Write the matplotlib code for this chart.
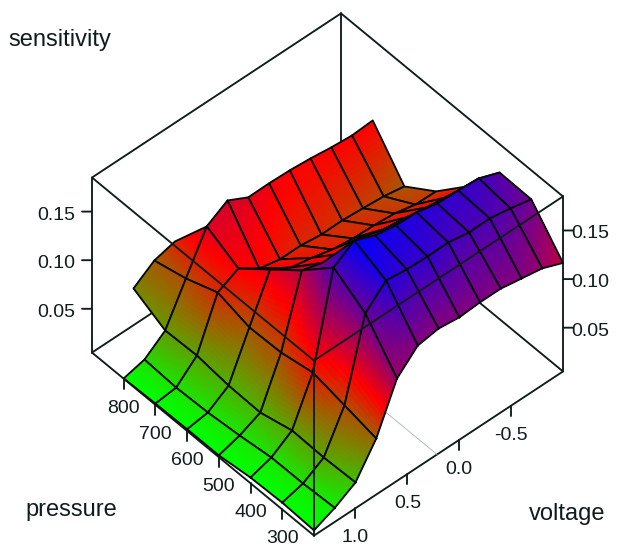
import numpy as np
import matplotlib
matplotlib.use("Agg")
import matplotlib.pyplot as plt
from mpl_toolkits.mplot3d import proj3d

plt.rcParams['font.family'] = ['Liberation Sans', 'DejaVu Sans']

W, H = 621, 547
pressure = [200, 300, 400, 500, 600, 700, 800, 900]
voltage = [1.4, 1.2, 1.0, 0.8, 0.6, 0.4, 0.2, 0.0, -0.2, -0.4, -0.6, -0.8, -1.0]
nan = np.nan

sens_200 = [.0104, .0194, .0315, .0626, .1103, .1301, .1335, .1310, .1324, .1324, .1287, .1251, .1166]
sens_300 = [.0120, .0176, .0302, .0698, .1503, .1701, .1674, .1666, .1670, .1632, .1636, .1598, .1551]
sens_400 = [.0109, .0174, .0311, .0766, .1706, .1843, .1755, .1717, .1710, .1661, .1654, .1638, .1558]
sens_500 = [.0068, .0131, .0226, .0703, .1407, .1346, .1301, .1335, .1274, .1247, .1211, .1175, .1148]
sens_600 = [.0068, .0099, .0235, .0693, .1148, .1027, .0986, .0932, .0905, .0898, .0880, .0831, .0826]
sens_700 = [.0063, .0086, .0275, .0783, .0889, .0748, .0702, .0703, .0676, .0680, .0664, .0646, .0608]
sens_800 = [.0053, .0106, .0264, .0658, .1053, .1180, .1071, .1074, .1067, .1049, .1022, .1004, .1018]
sens_900 = [nan, nan, .0428, .0574, .0630, nan, nan, nan, nan, nan, nan, nan, nan]

# colour variable of each grid point: 0 green, 0.5 red, 1 blue
col_200 = [0, .03, .12, .30, .70, .74, .74, .74, .75, .75, .74, .70, .62]
col_300 = [0, .05, .18, .35, .80, .93, .90, .90, .87, .85, .85, .82, .78]
col_400 = [0, .05, .18, .45, .85, 1.0, .97, .95, .93, .91, .90, .88, .82]
col_500 = [0, .05, .15, .35, .64, .55, .52, .50, .50, .50, .50, .50, .50]
col_600 = [0, .05, .15, .33, .55, .52, .48, .45, .42, .42, .40, .38, .38]
col_700 = [0, .05, .18, .42, .50, .50, .45, .42, .42, .40, .38, .36, .32]
col_800 = [0, .07, .20, .35, .57, .58, .56, .53, .50, .50, .50, .50, .50]
col_900 = [nan, nan, .24, .32, .42, nan, nan, nan, nan, nan, nan, nan, nan]

pressure_ticks = [300, 400, 500, 600, 700, 800]
voltage_ticks = [1.0, 0.5, 0.0, -0.5]
sens_ticks = [0.05, 0.10, 0.15]
p_lim = (200, 900)
v_lim = (-1.0, 1.4)
z_lim = (0.005, 0.185)

Z = np.array([sens_200, sens_300, sens_400, sens_500, sens_600, sens_700, sens_800, sens_900])
T = np.array([col_200, col_300, col_400, col_500, col_600, col_700, col_800, col_900])
P = np.array(pressure, float)
V = np.array(voltage, float)

INK = '#101c1c'
LW = 1.35


def rgb(t):
    t = np.asarray(t)
    g = np.clip(1 - 2 * t, 0, 1)
    b = np.clip(2 * t - 1, 0, 1)
    r = 1 - g - b
    return np.stack([r, g, b], axis=-1)


fig = plt.figure(figsize=(W / 100, H / 100), dpi=100, facecolor='white')
ax = fig.add_axes([0, 0, 1, 1], projection='3d', computed_zorder=False)
ax.set_proj_type('ortho')
ax.set_xlim(*p_lim, view_margin=0)
ax.set_ylim(*v_lim, view_margin=0)
ax.set_zlim(*z_lim, view_margin=0)
ax.set_box_aspect((333, 334, 259))
ax.view_init(elev=47.5, azim=138.2)
ax.set_axis_off()
ax.patch.set_alpha(0)

pL, pF = p_lim[1], p_lim[0]
vF, vR = v_lim[1], v_lim[0]
z0, z1 = z_lim
zpx = (z1 - z0) / 175.0


def seg(a, b, zo, lw=LW, color=INK):
    ax.plot([a[0], b[0]], [a[1], b[1]], [a[2], b[2]], color=color, lw=lw,
            zorder=zo, solid_capstyle='round')


# back of the box
seg((pF, vF, z0), (pL, vF, z0), 1)
seg((pF, vF, z0), (pF, vR, z0), 1)
seg((pL, vF, z0), (pL, vR, z0), 1)
seg((pF, vR, z0), (pL, vR, z0), 1)
seg((pL, vR, z0), (pL, vR, z1), 1)
seg((pL, vF, z1), (pL, vR, z1), 1)
seg((pF, vR, z1), (pL, vR, z1), 1)
seg((pL, vF, z0), (pL, vF, z1), 1)
seg((pF, vR, z0), (pF, vR, z1), 1)
seg((pF, 0.214, z0), (400, 0.214, z0), 1, lw=0.6, color='#a9b4b4')

# surface, painted back to front, one cell at a time
N = 14
s = np.linspace(0, 1, N + 1)
sc = (s[:-1] + s[1:]) / 2


def bil(c, u, w):
    return (c[0, 0] * (1 - u) * (1 - w) + c[1, 0] * u * (1 - w)
            + c[0, 1] * (1 - u) * w + c[1, 1] * u * w)


order = 10
U, W_ = np.meshgrid(s, s, indexing='ij')
Uc, Wc = np.meshgrid(sc, sc, indexing='ij')
for i in range(len(P) - 2, -1, -1):
    for j in range(len(V) - 2, -1, -1):
        zc = Z[i:i + 2, j:j + 2]
        tc = T[i:i + 2, j:j + 2]
        if np.isnan(zc).any():
            continue
        XX = P[i] + (P[i + 1] - P[i]) * U
        YY = V[j] + (V[j + 1] - V[j]) * W_
        ZZ = bil(zc, U, W_)
        ax.plot_surface(XX, YY, ZZ, facecolors=rgb(bil(tc, Uc, Wc)), rstride=1, cstride=1,
                        shade=False, linewidth=0, antialiased=False, zorder=order)
        ax.plot([P[i], P[i + 1], P[i + 1], P[i], P[i]],
                [V[j], V[j], V[j + 1], V[j + 1], V[j]],
                [zc[0, 0], zc[1, 0], zc[1, 1], zc[0, 1], zc[0, 0]],
                color='#050a0a', lw=LW, zorder=order + 0.5, solid_joinstyle='round')
        order += 1

# front of the box, drawn over the surface
top = order + 1
seg((pL, vF, z1), (pF, vF, z1), top)
seg((pF, vF, z1), (pF, vR, z1), top)
seg((pF, vF, z0), (pF, vF, z1), top)

# ticks; tick labels are placed once the projection is fitted
FS = 14
labels = []
for p in pressure_ticks:
    seg((p, vF, z0), (p, vF, z0 - 10 * zpx), top)
    labels.append((p, vF, z0 - 29.5 * zpx, str(p)))
for v in voltage_ticks:
    seg((pF, v, z0), (pF, v, z0 - 10 * zpx), top)
    labels.append((pF, v, z0 - 29.5 * zpx, f'{v:.1f}'))
for z in sens_ticks:
    seg((pL, vF, z), (pL + 14, vF + .0535, z), top)
    labels.append((pL + 36 * 1.4, vF + 36 * .00535, z - 3.5 * zpx, f'{z:.2f}'))
    seg((pF, vR, z), (pF - 14, vR - .0535, z), top)
    labels.append((pF - 27 * 1.4, vR - 27 * .00535, z - 3.5 * zpx, f'{z:.2f}'))

# axis titles
fig.text(60 / W, 1 - 40 / H, 'sensitivity', fontsize=17, color=INK, ha='center', va='center')
fig.text(71 / W, 1 - 510 / H, 'pressure', fontsize=17, color=INK, ha='center', va='center')
fig.text(567 / W, 1 - 514 / H, 'voltage', fontsize=17, color=INK, ha='center', va='center')

# fit the projected box onto the figure
corners = [(pL, vF, z1), (pF, vR, z0)]
target = np.array([[92, H - 178], [563, H - 371]], float)
S, cx, cy = 900.0, W / 2, H / 2


def to_display(c):
    x, y, _z = proj3d.proj_transform(c[0], c[1], c[2], ax.get_proj())
    return ax.transData.transform((x, y))


for _ in range(4):
    ax.set_position([(cx - S / 2) / W, (cy - S / 2) / H, S / W, S / H])
    ax.apply_aspect()
    pts = np.array([to_display(c) for c in corners])
    S *= (target[1, 0] - target[0, 0]) / (pts[1, 0] - pts[0, 0])
    cx += target.mean(axis=0)[0] - pts.mean(axis=0)[0]
    cy += target.mean(axis=0)[1] - pts.mean(axis=0)[1]
ax.set_position([(cx - S / 2) / W, (cy - S / 2) / H, S / W, S / H])
ax.apply_aspect()

for x3, y3, z3, txt in labels:
    dx, dy = to_display((x3, y3, z3))
    fig.text(dx / W, dy / H, txt, fontsize=FS, color=INK, ha='center', va='center')

for artist in ax.get_children():
    artist.set_clip_on(False)

fig.savefig('out.png', dpi=100, facecolor='white')
